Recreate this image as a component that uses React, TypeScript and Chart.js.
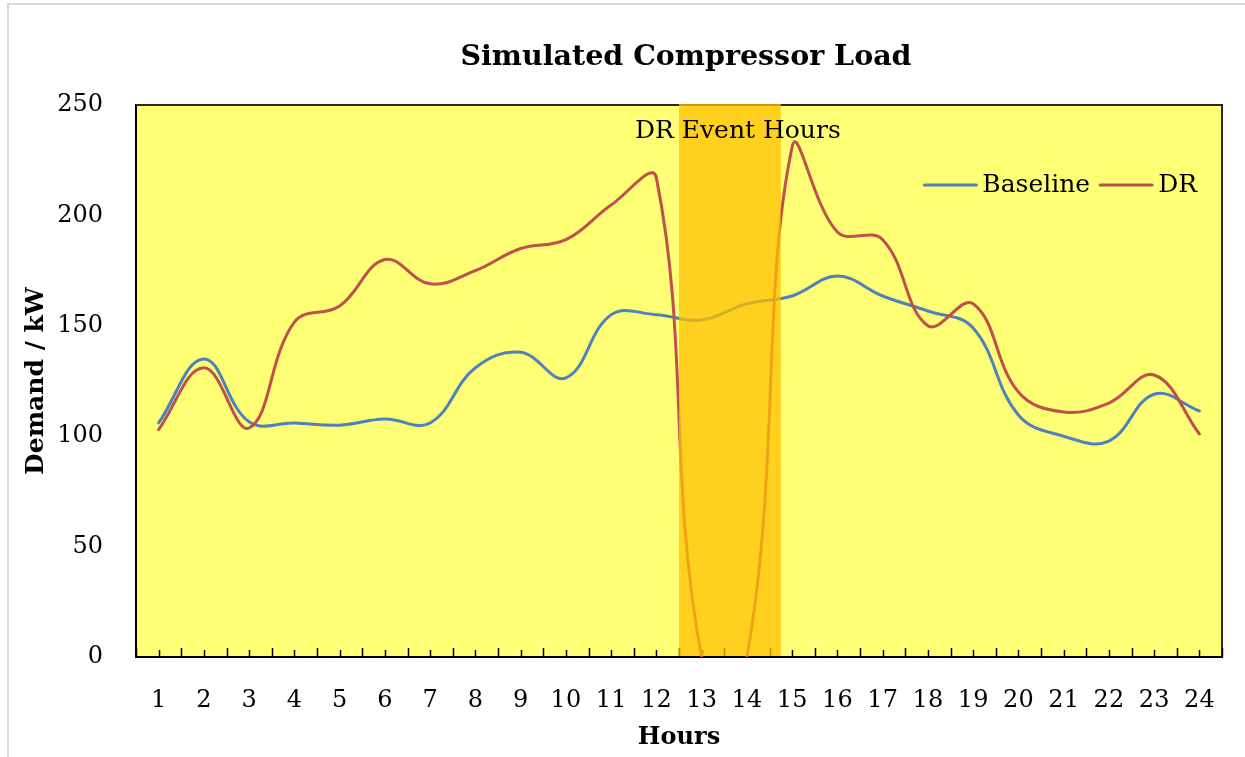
import React, { useEffect, useRef } from "react";
import { Chart, registerables } from "chart.js";

Chart.register(...registerables);

const hours = [1, 2, 3, 4, 5, 6, 7, 8, 9, 10, 11, 12, 13, 14, 15, 16, 17, 18, 19, 20, 21, 22, 23, 24];
const baseline = [106, 135, 106.5, 106, 105, 107.8, 106, 131, 138, 126.4, 155, 155, 152.6, 160, 163.5, 172.5, 163.5, 156.7, 149, 109.6, 100, 97.8, 119, 111.4];
const drLoad = [103, 131, 103.7, 151.7, 159, 180, 169, 175, 185, 189, 204.7, 217, 0, 0, 231, 192.5, 189, 150, 160, 120, 111, 115, 127.7, 101];
const yTicks = [0, 50, 100, 150, 200, 250];
const eventStart = 12.5;
const eventEnd = 14.75;
const eventLabel = "DR Event Hours";
const eventLabelX = 13.8;
const eventLabelY = 238;
const seriesNames = ["Baseline", "DR"];
const seriesColors = ["#4F81BD", "#C0504D"];

const FONT = "'DejaVu Serif', serif";

const decorPlugin = {
  id: "decor",
  beforeDraw(chart: any) {
    const { ctx, chartArea: a } = chart;
    ctx.save();
    ctx.fillStyle = "#FFFF75";
    ctx.fillRect(a.left, a.top, a.right - a.left, a.bottom - a.top);
    ctx.restore();
  },
  beforeDatasetsDraw(chart: any) {
    const { ctx, chartArea: a, scales } = chart;
    const x = scales.x;
    ctx.save();
    ctx.strokeStyle = "#2a2a1a";
    ctx.lineWidth = 2;
    ctx.beginPath();
    ctx.moveTo(a.left, a.top);
    ctx.lineTo(a.right, a.top);
    ctx.lineTo(a.right, a.bottom);
    ctx.stroke();
    ctx.strokeStyle = "#000";
    ctx.lineWidth = 1.5;
    for (let v = hours[0] - 0.5; v <= hours[hours.length - 1] + 0.5 + 1e-6; v += 0.5) {
      const px = Math.round(x.getPixelForValue(v)) + 0.5;
      const isCenter = Math.abs(v - Math.round(v)) < 1e-6;
      const len = isCenter ? 7 : 9;
      ctx.beginPath();
      ctx.moveTo(px, a.bottom);
      ctx.lineTo(px, a.bottom - len);
      ctx.stroke();
    }
    ctx.restore();
  },
  afterDatasetsDraw(chart: any) {
    const { ctx, chartArea: a, scales } = chart;
    const x = scales.x;
    const y = scales.y;
    const x0 = x.getPixelForValue(eventStart);
    const x1 = x.getPixelForValue(eventEnd);
    ctx.save();
    ctx.fillStyle = "rgba(255,192,0,0.75)";
    ctx.fillRect(x0, a.top - 1, x1 - x0, a.bottom - a.top);
    ctx.fillStyle = "#000";
    ctx.font = `25px ${FONT}`;
    ctx.textAlign = "center";
    ctx.textBaseline = "middle";
    ctx.fillText(eventLabel, x.getPixelForValue(eventLabelX), y.getPixelForValue(eventLabelY));
    ctx.restore();
  },
  afterDraw(chart: any) {
    const { ctx, chartArea: a } = chart;
    ctx.save();
    ctx.font = `25px ${FONT}`;
    ctx.textBaseline = "middle";
    const sample = 54;
    const gapText = 5;
    const gapItem = 9;
    const widths = seriesNames.map((n) => ctx.measureText(n).width);
    let total = 0;
    widths.forEach((w, i) => {
      total += sample + gapText + w + (i < widths.length - 1 ? gapItem : 0);
    });
    let cx = a.right - 25 - total;
    const cy = a.top + 80;
    seriesNames.forEach((n, i) => {
      ctx.strokeStyle = seriesColors[i];
      ctx.lineWidth = 3;
      ctx.lineCap = "round";
      ctx.beginPath();
      ctx.moveTo(cx + 1, cy);
      ctx.lineTo(cx + sample - 1, cy);
      ctx.stroke();
      cx += sample + gapText;
      ctx.fillStyle = "#000";
      ctx.fillText(n, cx, cy);
      cx += widths[i] + gapItem;
    });
    ctx.restore();
  },
};

export default function App() {
  const ref = useRef<HTMLCanvasElement | null>(null);
  useEffect(() => {
    if (!ref.current) return;
    const chart = new Chart(ref.current, {
      type: "line",
      data: {
        datasets: [
          {
            label: seriesNames[0],
            data: hours.map((h, i) => ({ x: h, y: baseline[i] })),
            borderColor: seriesColors[0],
            borderWidth: 3,
            pointRadius: 0,
            tension: 0.4,
            order: 1,
            clip: 0,
          } as any,
          {
            label: seriesNames[1],
            data: hours.map((h, i) => ({ x: h, y: drLoad[i] })),
            borderColor: seriesColors[1],
            borderWidth: 3,
            pointRadius: 0,
            tension: 0.4,
            order: 0,
            clip: 0,
          } as any,
        ],
      },
      options: {
        responsive: false,
        animation: false,
        events: [],
        elements: { line: { capBezierPoints: false, borderCapStyle: "round", borderJoinStyle: "round" } },
        layout: { padding: { left: 0, right: 23, top: 105, bottom: 0 } },
        plugins: {
          legend: { display: false },
          title: { display: false },
          tooltip: { enabled: false },
        },
        scales: {
          x: {
            type: "linear",
            min: hours[0] - 0.5,
            max: hours[hours.length - 1] + 0.5,
            grid: { display: false },
            border: { display: true, color: "#000", width: 2 },
            afterBuildTicks: (s: any) => {
              s.ticks = hours.map((v) => ({ value: v }));
            },
            afterFit: (s: any) => {
              s.height = 100;
            },
            ticks: {
              autoSkip: false,
              maxRotation: 0,
              color: "#000",
              padding: 21,
              font: { family: FONT, size: 24 },
              callback: (v: any) => String(v),
            },
            title: {
              display: true,
              text: "Hours",
              color: "#000",
              font: { family: FONT, size: 24, weight: "bold" },
              padding: { top: 0, bottom: 5 },
            },
          },
          y: {
            min: 0,
            max: 250,
            grid: { display: false },
            border: { display: true, color: "#000", width: 2 },
            afterBuildTicks: (s: any) => {
              s.ticks = yTicks.map((v) => ({ value: v }));
            },
            afterFit: (s: any) => {
              s.width = 136;
            },
            ticks: {
              color: "#000",
              padding: 25,
              font: { family: FONT, size: 24 },
            },
            title: {
              display: true,
              text: "Demand / kW",
              color: "#000",
              font: { family: FONT, size: 25, weight: "bold" },
              padding: { top: 21, bottom: 0 },
            },
          },
        },
      },
      plugins: [decorPlugin],
    });
    return () => chart.destroy();
  }, []);

  return (
    <div style={{ position: "absolute", left: 0, top: 0, width: 1245, height: 757, overflow: "hidden", background: "#fff" }}>
      <div
        style={{
          position: "absolute",
          left: 7,
          top: 3,
          width: 1260,
          height: 800,
          borderLeft: "2px solid #d9d9d9",
          borderTop: "2px solid #d9d9d9",
          boxSizing: "border-box",
        }}
      />
      <canvas ref={ref} width={1245} height={757} style={{ position: "absolute", left: 0, top: 0 }} />
      <div
        style={{
          position: "absolute",
          left: 136,
          width: 1222 - 136 + 14,
          top: 37,
          textAlign: "center",
          font: `bold 28.5px ${FONT}`,
          color: "#000",
          lineHeight: "36px",
        }}
      >
        Simulated Compressor Load
      </div>
    </div>
  );
}
